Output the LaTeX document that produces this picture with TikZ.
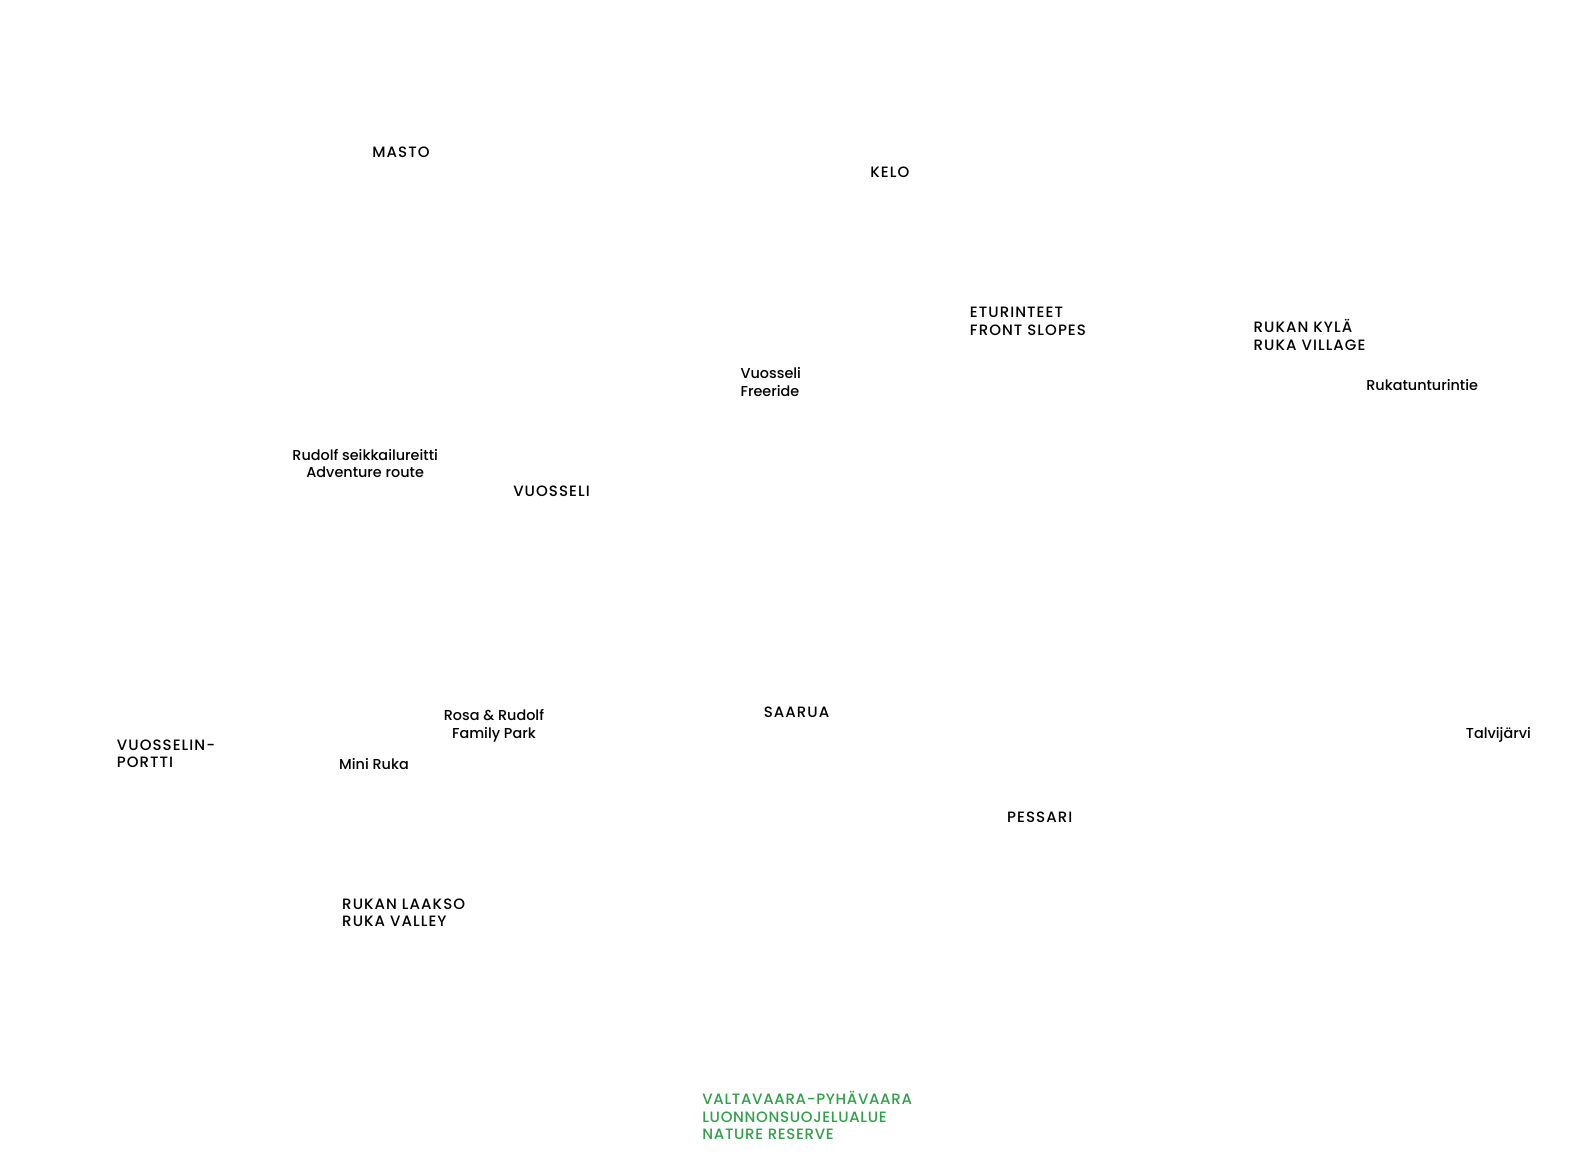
\documentclass[tikz,border=0pt]{standalone}
\usepackage{fontspec}
\setmainfont{Poppins}[UprightFont=* Medium]
\newfontfamily\capsfont{Poppins}[UprightFont=* Medium,LetterSpace=7]
\newfontfamily\capsnarrow{Poppins}[UprightFont=* Medium,LetterSpace=4.5]
\definecolor{reservegreen}{RGB}{47,160,72}
\begin{document}
\begin{tikzpicture}[x=1.006pt,y=-1.006pt,
  lbl/.style={anchor=base west,inner sep=0pt,align=left,font=\capsfont\fontsize{15}{17.5}\selectfont,text=black},
  lblc/.style={lbl,anchor=base,align=center},
  small/.style={font=\rmfamily\fontsize{14.4}{17.5}\selectfont},
  reservelbl/.style={lbl,font=\capsnarrow\fontsize{15}{17.5}\selectfont,text=reservegreen}]
\useasboundingbox (0pt,0pt) rectangle (1578pt,-1156pt);
\node[lbl] (masto) at (370,157) {MASTO};
\node[lbl] (kelo) at (865,176) {KELO};
\node[lbl] (etur) at (964,333) {ETURINTEET\\FRONT SLOPES};
\node[lbl] (kyla) at (1246,348) {RUKAN KYLÄ\\RUKA VILLAGE};
\node[lbl,small] (tie) at (1358,388) {Rukatunturintie};
\node[lbl,small] (free) at (736,394) {Vuosseli\\Freeride};
\node[lblc,small] (rudolf) at (363,475) {Rudolf seikkailureitti\\Adventure route};
\node[lbl] (vuos) at (510,494) {VUOSSELI};
\node[lblc,small] (rosa) at (491,734) {Rosa \& Rudolf\\Family Park};
\node[lbl] (saarua) at (759,713) {SAARUA};
\node[lbl] (portti) at (116,763) {VUOSSELIN-\\PORTTI};
\node[lbl,small] (mini) at (337,765) {Mini Ruka};
\node[lbl,small] (talvi) at (1457,734) {Talvijärvi};
\node[lbl] (pessari) at (1001,818) {PESSARI};
\node[lbl] (laakso) at (340,921) {RUKAN LAAKSO\\RUKA VALLEY};
\node[reservelbl] (reserve) at (698,1133) {VALTAVAARA-PYHÄVAARA\\LUONNONSUOJELUALUE\\NATURE RESERVE};
\end{tikzpicture}
\end{document}
